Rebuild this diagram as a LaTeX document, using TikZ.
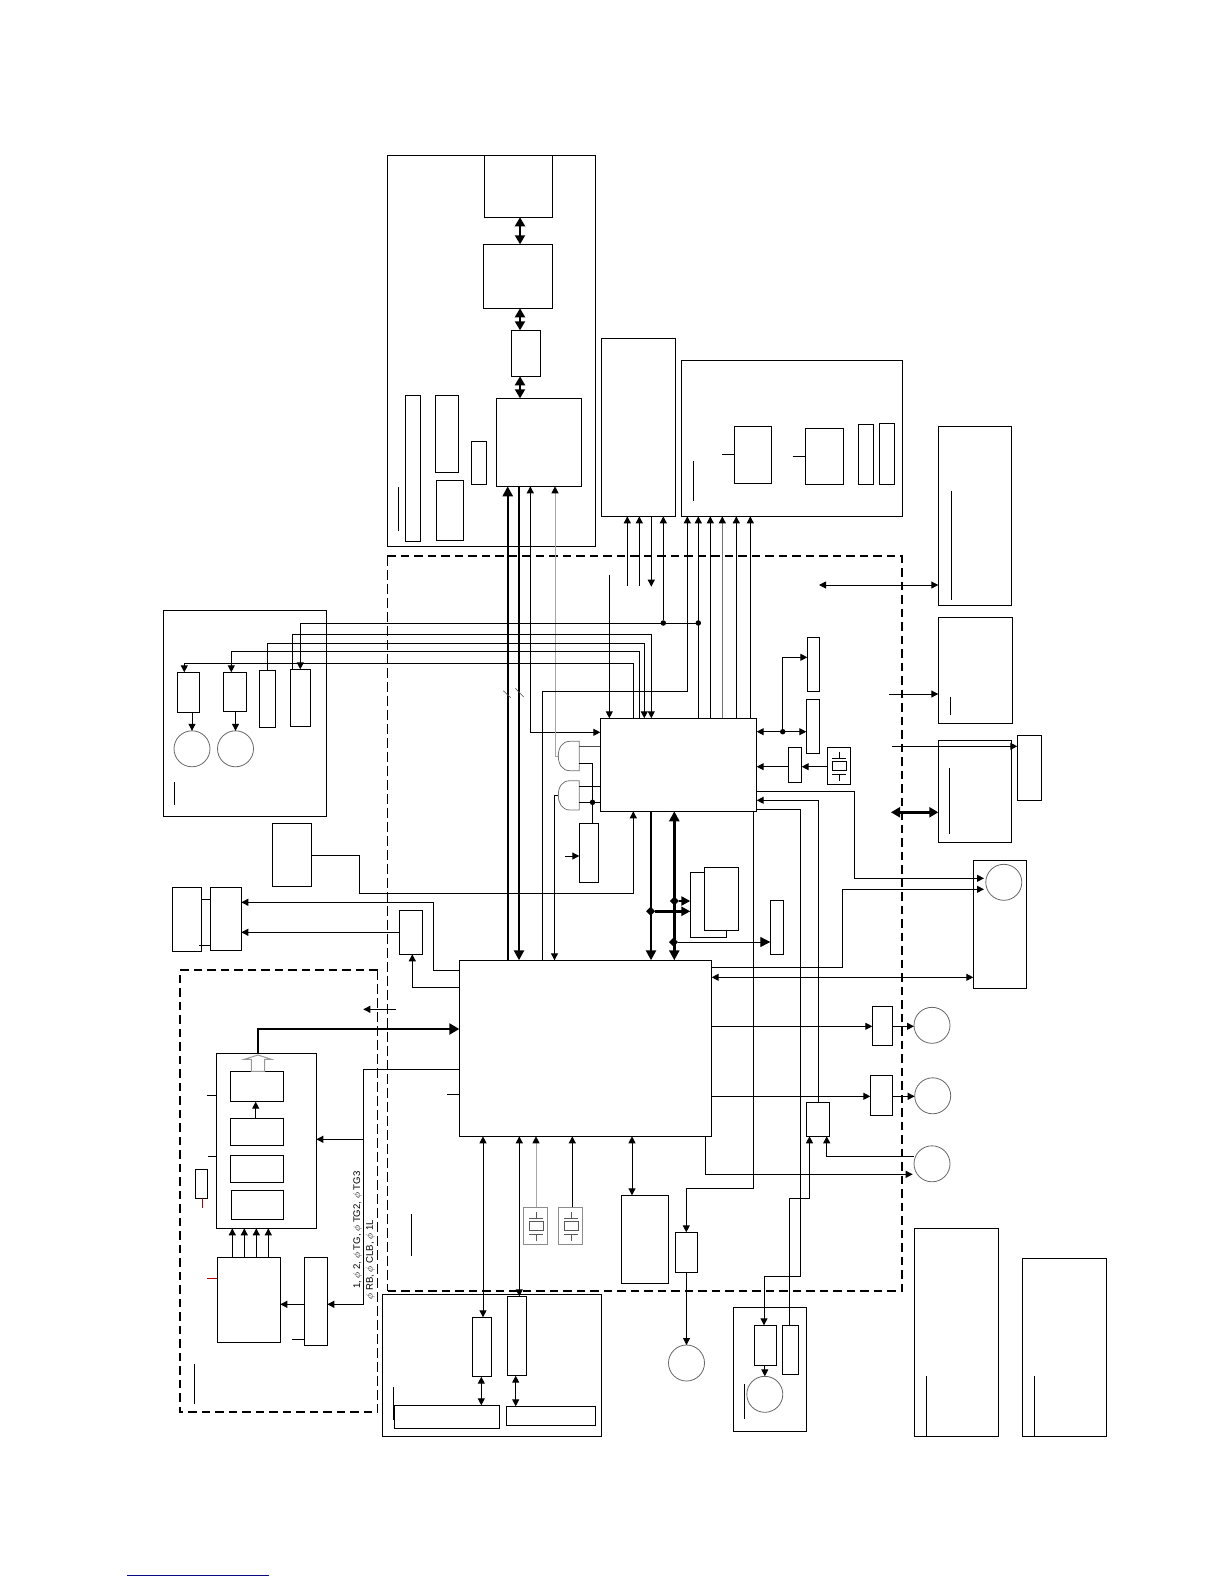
\documentclass[tikz,border=0pt]{standalone}
\usepackage{fontspec}
\setmainfont{Liberation Sans}
\usetikzlibrary{arrows.meta,shapes.geometric}
\tikzset{
  ln/.style={line width=1pt,draw=black},
  bxs/.style={draw=black,line width=1pt,fill=none,inner sep=0pt,outer sep=0pt,rectangle},
  cir/.style={draw=black!60,line width=0.8pt,circle,inner sep=0pt,outer sep=0pt,minimum size=36pt},
  arw/.style={ln,-{Triangle[length=7pt,width=7pt]}},
  dbl/.style={ln,{Triangle[length=7pt,width=7pt]}-{Triangle[length=7pt,width=7pt]}},
  thk/.style={draw=black,line width=2.4pt},
  thka/.style={thk,-{Triangle[length=10pt,width=10pt]}},
  thkd/.style={draw=black,line width=2pt,{Triangle[length=9pt,width=10pt]}-{Triangle[length=9pt,width=10pt]}},
  gryl/.style={line width=1pt,draw=black!35},
  grya/.style={gryl,-{Triangle[length=7pt,width=7pt,color=black]}},
  dot/.style={circle,fill=black,inner sep=0pt,outer sep=0pt,minimum size=5.5pt},
  dia/.style={diamond,fill=black,inner sep=0pt,outer sep=0pt,minimum size=9pt},
  dashthick/.style={draw=black,line width=1.9pt,dash pattern=on 8.5pt off 5pt},
  dashthin/.style={draw=black,line width=1pt,dash pattern=on 10pt off 4pt},
  lab/.style={font=\fontsize{9.6}{11}\selectfont,rotate=90,anchor=west,inner sep=0pt}
}
\newcommand{\bx}[6][]{\node[bxs,#1,minimum width={(#5-#3)*1pt},minimum height={(#6-#4)*1pt}] (#2) at ({(#3+#5)/2},{(#4+#6)/2}) {};}
\newcommand{\xtal}[4]{%
  \draw[#1,line width=0.9pt] (#2-7,#3-4.5) rectangle (#2+7,#3+4.5);
  \draw[#1,line width=0.9pt] (#2-7,#3-7.5) -- (#2+7,#3-7.5) (#2-7,#3+8) -- (#2+7,#3+8);
  \draw[#1,line width=0.9pt] (#2,#3-14.5) -- (#2,#3-7.5) (#2,#3+8) -- (#2,#3+14.5);}
\begin{document}
\begin{tikzpicture}[x=1pt,y=-1pt]
\useasboundingbox (0,0) rectangle (1224,1584);
% ---- dashed frames
\draw[dashthick] (387.3,556) -- (901.7,556) -- (901.7,1291) -- (387.3,1291);
\draw[dashthin] (387.3,556) -- (387.3,1291);
\draw[dashthick] (377.7,970) -- (180,970) -- (180,1412) -- (377.7,1412);
\draw[dashthin] (377.7,970) -- (377.7,1412);
% ---- top board
\bx{TB}{387.3}{155.3}{595.3}{546.3}
\bx{T1}{484.3}{155.3}{552.3}{217.3}
\bx{T2}{483.3}{244.3}{552.7}{308.3}
\bx{T3}{511.3}{330.3}{540.3}{376.3}
\bx{T4}{496.3}{398.3}{581.7}{486.3}
\bx{Ta}{405.3}{395.3}{420.7}{541.3}
\bx{Tb}{435.3}{395.3}{458.7}{472.3}
\bx{Tc}{436.3}{480.3}{463.3}{540.3}
\bx{Td}{471.3}{441.3}{486.7}{484.3}
\coordinate (tv1) at (398.3,487); \coordinate (tv2) at (398.3,530.7);
\draw[ln] (tv1) -- (tv2);
\draw[thkd] (T1.south -| 520,0) -- (T2.north -| 520,0);
\draw[thkd] (T2.south -| 520,0) -- (T3.north -| 520,0);
\draw[thkd] (T3.south -| 520,0) -- (T4.north -| 520,0);
% ---- block P1
\bx{P1}{601.3}{338.3}{675.3}{516.3}
\coordinate (p1a) at (627.3,585.7); \coordinate (p1b) at (639.3,585.7); \coordinate (p1c) at (651.3,586.7);
\draw[arw] (p1a) -- (P1.south -| p1a);
\draw[arw] (p1b) -- (P1.south -| p1b);
\draw[arw] (P1.south -| p1c) -- (p1c);
% ---- board R
\bx{R}{681.3}{360.3}{902.3}{516.3}
\bx{Ra}{734.3}{426.3}{771.3}{483.3}
\bx{Rb}{805.3}{428.3}{843.3}{484.3}
\bx{Rc}{858.3}{424.3}{873.3}{484.3}
\bx{Rd}{879.3}{423.3}{894.3}{484.3}
\coordinate (rs1) at (722.3,454.3); \coordinate (rs2) at (792.7,456.3);
\draw[ln] (rs1) -- (Ra.west |- rs1);
\draw[ln] (rs2) -- (Rb.west |- rs2);
\coordinate (rv1) at (693.3,461); \coordinate (rv2) at (693.3,500.7);
\draw[ln] (rv1) -- (rv2);
% ---- right boxes
\bx{E1}{938.3}{426.3}{1011.3}{605.3}
\bx{E2}{938.3}{617.3}{1012.3}{723.3}
\bx{E3}{938.3}{740.3}{1011.3}{842}
\bx{E4}{1017.3}{735.3}{1041.3}{800.3}
\draw[ln] (951.3,490.7) -- (951.3,599.7);
\draw[ln] (950.3,697) -- (950.3,714.7);
\draw[ln] (949.3,768) -- (949.3,833.7);
\coordinate (e1f) at (819,585); \coordinate (e2f) at (889,694); \coordinate (e4f) at (892,746.3); \coordinate (e3f) at (891,812.3);
\draw[dbl] (e1f) -- (E1.west |- e1f);
\draw[arw] (e2f) -- (E2.west |- e2f);
\draw[arw] (e4f) -- (E4.west |- e4f);
\draw[thkd,line width=3pt] (e3f) -- (E3.west |- e3f);
% ---- camera unit right
\bx{CR}{973.3}{860.3}{1026.3}{988.3}
\node[cir] (CRc) at (1003.8,882.3) {};
% ---- main blocks
\bx{U}{600.3}{718.3}{756.7}{811.3}
\bx{M}{459.3}{960.3}{711.7}{1136.3}
% ---- lines between main and top
\draw[thk,{Triangle[length=10pt,width=10pt]}-] (T4.south -| 507.7,0) -- (M.north -| 507.7,0);
\draw[thka] (T4.south -| 519,0) -- (M.north -| 519,0);
\draw[dbl] (U.west |- 0,732.3) -| (T4.south -| 530.3,0);
\coordinate (g1l) at (558.3,756.7);
\coordinate (g2l) at (558.3,795.3);
\draw[grya] (g1l) -| (T4.south -| 555,0);
\draw[ln,-{Triangle[length=7pt,width=7pt]}] (g2l) -- (554.5,795.3) -- (M.north -| 554.5,0);
% gates
\draw[black!55,line width=0.8pt] (579.3,741.3) -- (570,741.3) .. controls (562,741.3) and (558.3,748) .. (558.3,756) .. controls (558.3,764) and (562,770.7) .. (570,770.7) -- (579.3,770.7) -- cycle;
\draw[black!55,line width=0.8pt] (579.3,780.7) -- (570,780.7) .. controls (562,780.7) and (558.3,787) .. (558.3,795.3) .. controls (558.3,803) and (562,810) .. (570,810) -- (579.3,810) -- cycle;
\coordinate (g1a) at (579.3,746.3); \coordinate (g1b) at (579.3,763.3);
\coordinate (g2a) at (579.3,786.3); \coordinate (g2b) at (579.3,802.3);
\draw[ln,draw=black!70] (g1a) -- (U.west |- g1a);
\draw[ln] (g2a) -- (U.west |- g2a);
\draw[ln] (g2b) -- (U.west |- g2b);
\bx{S}{579.3}{823.3}{598.3}{882.3}
\node[dot] (dS) at (592.5,802.3) {};
\draw[ln] (g1b) -| (S.north -| dS);
\coordinate (sf) at (565,856);
\draw[arw] (sf) -- (S.west |- sf);
% box PW -> U bottom
\bx{PW}{272.3}{823.3}{311.7}{886.3}
\draw[arw] (PW.east |- 0,855.3) -| (359.3,893.3) -| (U.south -| 633.3,0);
% thick U-M
\draw[thka] (U.south -| 651,0) -- (M.north -| 651,0);
\draw[thk,{Triangle[length=10pt,width=10pt]}-{Triangle[length=10pt,width=10pt]}] (U.south -| 674.3,0) -- (M.north -| 674.3,0);
% memory
\bx{Mb}{690.3}{872.3}{726.7}{937.3}
\bx[fill=white]{Mf}{704.3}{867.3}{738.7}{930.3}
\bx{Mc}{770.3}{900.3}{783.7}{954.3}
\node[dia] (dA) at (650.6,911.3) {};
\node[dia] (dB) at (674.3,901) {};
\node[dia] (dC) at (673.5,942) {};
\draw[thk,-{Triangle[length=9pt,width=9pt]}] (dA) -- (Mb.west |- dA);
\draw[thk,-{Triangle[length=9pt,width=9pt]}] (dB) -- (Mb.west |- dB);
\draw[ln,-{Triangle[length=10pt,width=10pt]}] (dC) -- (Mc.west |- dC);
% top-right vertical lines from U
\node[dot] (d663) at (663.3,623) {};
\node[dot] (d698) at (698.3,623) {};
\draw[arw] (M.north -| 542.3,0) |- (687.3,691) -- (R.south -| 687.3,0);
\draw[arw] (U.north -| 698.3,0) -- (R.south -| 698.3,0);
\draw[arw] (U.north -| 710.3,0) -- (R.south -| 710.3,0);
\draw[ln,draw=black!55,-{Triangle[length=7pt,width=7pt,color=black]}] (U.north -| 722.3,0) -- (R.south -| 722.3,0);
\draw[arw] (U.north -| 736.3,0) -- (R.south -| 736.3,0);
\draw[arw] (U.north -| 750.3,0) -- (R.south -| 750.3,0);
\draw[arw] (d663) -- (P1.south -| d663);
\coordinate (uf) at (609.3,574.5);
\draw[arw] (uf) -- (U.north -| uf);
% board L
\bx{LB}{163.3}{610.3}{326.3}{816.3}
\bx{La}{177.3}{672.3}{199.7}{712.3}
\bx{Lb}{223.3}{672.3}{246.7}{711.3}
\bx{Lc}{259.3}{670.3}{275.7}{727.3}
\bx{Ld}{290.3}{669.3}{310.3}{726.3}
\node[cir] (Lc1) at (192,748.8) {};
\node[cir] (Lc2) at (235.5,748.8) {};
\draw[arw] (La.south -| Lc1) -- (Lc1.north);
\draw[arw] (Lb.south -| Lc2) -- (Lc2.north);
\draw[ln] (174.3,782) -- (174.3,804.7);
\draw[arw] (d698) -- (300.3,623) -- (Ld.north -| 300.3,0);
\draw[arw] (Ld.north -| 292.3,0) |- (651.3,634.5) -- (U.north -| 651.3,0);
\draw[arw] (Lc.north -| 267.3,0) |- (644.3,643.3) -- (U.north -| 644.3,0);
\draw[arw] (U.north -| 639.3,0) |- (231.3,651.3) -- (Lb.north -| 231.3,0);
\draw[arw] (U.north -| 633.3,0) |- (184.3,663.3) -- (La.north -| 184.3,0);
% slash marks
\draw[line width=0.6pt,black!70] (503.3,690.7) -- (510.7,697.7) (515.3,688.3) -- (523.7,697);
% camera boxes left
\bx{C1}{172.3}{887.3}{201.7}{951.3}
\bx{C2}{210.3}{887.3}{241.3}{950.3}
\draw[ln] (C2.west |- 0,899.3) -- (200.7,899.3);
\draw[ln] (C2.west |- 0,945.7) -- (199.3,945.7);
\bx{Cd}{399.3}{910.3}{422.3}{954.3}
\draw[arw] (M.west |- 0,970.3) -| (433.7,902.3) -- (C2.east |- 0,902.3);
\draw[arw] (Cd.west |- 0,932.3) -- (C2.east |- 0,932.3);
\draw[arw] (M.west |- 0,987.3) -| (Cd.south -| 412.3,0);
% CCD block
\coordinate (af) at (396,1009.3); \coordinate (af2) at (363.3,1009.3);
\draw[arw] (af) -- (af2);
\bx{CC}{216.7}{1053.3}{316.3}{1228.3}
\bx{C3}{230.3}{1071.3}{283.7}{1101.7}
\bx{C4}{230.3}{1118.3}{283.7}{1145.3}
\bx{C5}{230.3}{1155.3}{283.7}{1182.3}
\bx{C6}{231.3}{1190.3}{283.7}{1219.3}
\draw[thk,-{Triangle[length=10pt,width=11pt]}] (CC.north -| 258,0) |- (M.west |- 0,1029);
\draw[arw] (C4.north -| 255.7,0) -- (C3.south -| 255.7,0);
\draw[black!40,line width=1pt,fill=white] (251.3,1071.3) -- (251.3,1059.3) -- (244.3,1059.3) -- (258,1055) -- (271.3,1059.3) -- (264.7,1059.3) -- (264.7,1071.3) -- cycle;
\draw[ln] (206.7,1095.3) -- (CC.west |- 0,1095.3);
\draw[ln] (208,1156.3) -- (CC.west |- 0,1156.3);
\bx{Cs}{195.3}{1169.3}{207.7}{1198.3}
\draw[line width=0.9pt,draw=red!70!black] (Cs.south -| 202.7,0) -- (202.7,1207.7);
\bx{TG}{217.3}{1257.3}{280.3}{1342.3}
\draw[line width=0.9pt,draw=red!70!black] (207.3,1278.3) -- (TG.west |- 0,1278.3);
\foreach \xx in {232.3,244.3,256.3,268.3} \draw[arw] (TG.north -| \xx,0) -- (CC.south -| \xx,0);
\bx{DR}{304.3}{1257.3}{327.3}{1345.3}
\draw[arw] (DR.west |- 0,1304.3) -- (TG.east |- 0,1304.3);
\draw[ln] (292,1339.3) -- (DR.west |- 0,1339.3);
\draw[arw] (M.west |- 0,1069.3) -| (363.3,1304.3) -- (DR.east |- 0,1304.3);
\draw[arw] (363.3,1139.3) -- (CC.east |- 0,1139.3);
\draw[ln] (194.3,1364) -- (194.3,1403.7);
\draw[ln] (447.3,1094.3) -- (M.west |- 0,1094.3);
\draw[ln] (411.3,1214.3) -- (411.3,1255.7);
\node[lab] (t1) at (357.7,1289) {1, $\phi$ 2, $\phi$ TG, $\phi$ TG2, $\phi$ TG3};
\node[lab] (t2) at (370.3,1299.5) {$\phi$ RB, $\phi$ CLB, $\phi$ 1L};
% bottom board
\bx{BB}{382.7}{1294.3}{601.3}{1436.3}
\bx{Ba}{472.3}{1317.3}{491.7}{1376.7}
\bx{Bb}{507.3}{1296.3}{526.7}{1375.7}
\bx{Bc}{394.3}{1405.3}{499.3}{1428.3}
\bx{Bd}{506.3}{1406.3}{595.7}{1425.3}
\draw[dbl] (M.south -| 483,0) -- (Ba.north -| 483,0);
\draw[dbl] (M.south -| 519.3,0) -- (Bb.north -| 519.3,0);
\draw[dbl] (Ba.south -| 481.3,0) -- (Bc.north -| 481.3,0);
\draw[dbl] (Bb.south -| 515.7,0) -- (Bd.north -| 515.7,0);
\draw[ln] (393.3,1386.7) -- (393.3,1420);
% crystals
\bx[draw=black!45]{X1}{523.7}{1207.3}{547}{1244.3}
\bx[draw=black!45]{X2}{558.3}{1207.3}{582.7}{1244.3}
\xtal{black!65}{536.3}{1226}{}
\xtal{black!65}{571}{1226}{}
\draw[grya] (X1.north -| 536,0) -- (M.south -| 536,0);
\draw[arw] (X2.north -| 572.3,0) -- (M.south -| 572.3,0);
% memory below
\bx{Mm}{621.3}{1195.3}{668.3}{1283.3}
\draw[dbl] (M.south -| 632,0) -- (Mm.north -| 632,0);
\bx{Mo}{675.3}{1232.3}{697.3}{1272.3}
\node[cir] (Moc) at (686.5,1363) {};
\draw[arw] (U.south -| 753.3,0) |- (686.3,1188.3) -- (Mo.north -| 686.3,0);
\draw[arw] (Mo.south -| Moc) -- (Moc.north);
% motor board
\bx{MB}{733.3}{1307.3}{806.3}{1431.3}
\bx{Ma}{754.3}{1325.3}{776.3}{1365.3}
\bx{Mbb}{782.3}{1325.3}{798.3}{1374.3}
\node[cir] (Mac) at (764.8,1394.3) {};
\draw[arw] (Ma.south -| Mac) -- (Mac.north);
\draw[ln] (744.7,1384.3) -- (744.7,1418.7);
\draw[arw] (U.east |- 0,809) -| (800.3,1276.3) -| (Ma.north -| 764,0);
% motor small box
\bx{Sm}{806.3}{1102.3}{829.7}{1136.3}
\draw[arw] (Mbb.north -| 789.3,0) |- (809.5,1198.3) -- (Sm.south -| 809.5,0);
\node[cir] (C3c) at (932,1163.8) {};
\draw[arw] (C3c.west |- 0,1156.3) -| (Sm.south -| 826.7,0);
\draw[arw] (Sm.north -| 818.3,0) |- (U.east |- 0,800.3);
% M right side
\draw[arw] (U.east |- 0,791.3) -| (854.3,878.3) -- (984,878.3);
\draw[arw] (M.east |- 0,967.3) -| (842.3,889.3) -- (984,889.3);
\draw[dbl] (M.east |- 0,977.3) -- (CR.west |- 0,977.3);
\bx{Dv1}{872.3}{1006.3}{892.3}{1045.3}
\bx{Dv2}{870.3}{1075.3}{892.3}{1115.3}
\node[cir] (Dc1) at (932,1025.3) {};
\node[cir] (Dc2) at (932.7,1095.8) {};
\draw[arw] (M.east |- 0,1026.3) -- (Dv1.west |- 0,1026.3);
\draw[arw] (Dv1.east |- 0,1026.3) -- (Dc1.west |- 0,1026.3);
\draw[arw] (M.east |- 0,1096.3) -- (Dv2.west |- 0,1096.3);
\draw[arw] (Dv2.east |- 0,1096.3) -- (Dc2.west |- 0,1096.3);
\draw[arw] (M.south -| 705.3,0) |- (912.7,1174.3);
% U right cluster
\bx{Ur1}{807.3}{637.3}{819.7}{691.3}
\bx{Ur2}{806.3}{699.3}{819.7}{753.3}
\bx{Ur3}{788.3}{747.3}{801.7}{782.3}
\bx{Ur4}{827.3}{747.3}{850.7}{784.3}
\xtal{black}{839.3}{766}{}
\node[dot] (dU) at (782.7,731.7) {};
\draw[dbl] (U.east |- dU) -- (Ur2.west |- dU);
\draw[arw] (dU) |- (Ur1.west |- 0,657.3);
\draw[arw] (Ur4.west |- 0,766.7) -- (Ur3.east |- 0,766.7);
\draw[arw] (Ur3.west |- 0,766.7) -- (U.east |- 0,766.7);
% lower right
\bx{Q1}{914.3}{1228.3}{998.3}{1436.3}
\bx{Q2}{1022.3}{1258.3}{1106.3}{1436.3}
\draw[ln] (926.3,1376) -- (Q1.south -| 926.3,0);
\draw[ln] (1034.3,1376) -- (Q2.south -| 1034.3,0);
% footer rule
\coordinate (ft1) at (127.3,1575); \coordinate (ft2) at (269,1575);
\draw[draw={rgb,255:red,10;green,10;blue,130},line width=1pt] (ft1) -- (ft2);
\end{tikzpicture}
\end{document}
